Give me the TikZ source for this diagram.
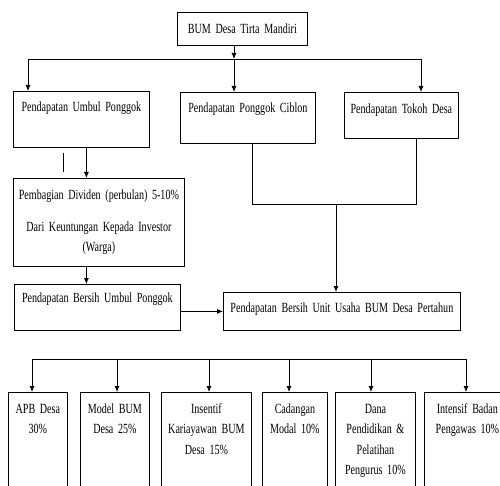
\documentclass[tikz,border=0pt]{standalone}
\usepackage{fontspec}
\setmainfont{Liberation Serif}[FakeStretch=0.72]
\usetikzlibrary{arrows.meta}
\newcommand{\boxfont}{\fontsize{14}{20.5}\selectfont\fontdimen2\font=2.6pt}
\tikzset{%
  block/.style={rectangle, draw, line width=0.8pt, anchor=north west, inner sep=0pt, align=center, text height=20pt, font=\boxfont},
  shareblock/.style={block, text height=21pt, text depth=110pt},
  line/.style={draw, line width=0.8pt},
  arrow/.style={draw, line width=0.8pt, -{Latex[length=6pt, width=5pt]}}}

\begin{document}
\begin{tikzpicture}[x=1pt, y=-1pt]
    \useasboundingbox (0,0) rectangle (500,486);
    \clip (0,0) rectangle (500,486);
    % Top: the village enterprise
    \node (bum) [block, text width=130pt, text height=21pt, text depth=12pt] at (177,12) {BUM Desa Tirta Mandiri};
    % Income of the units
    \node (umbul) [block, text width=136pt, text depth=36pt] at (13,91) {Pendapatan Umbul Ponggok};
    \node (ciblon) [block, text width=135pt, text depth=31pt] at (180,92) {Pendapatan Ponggok Ciblon};
    \node (tokoh) [block, text width=114pt, text height=21pt, text depth=25pt] at (344,92) {Pendapatan Tokoh Desa};
    \node (dividen) [block, text width=171pt, text height=21pt, text depth=67pt] at (13,178) {Pembagian Dividen (perbulan) 5-10\%\\[11.5pt]Dari Keuntungan Kepada Investor\\(Warga)};
    \node (bersih) [block, text width=166pt, text height=18pt, text depth=28pt] at (14,284) {Pendapatan Bersih Umbul Ponggok};
    \node (total) [block, text width=237pt, text depth=18pt] at (223,292) {Pendapatan Bersih Unit Usaha BUM Desa Pertahun};
    % Shares of the yearly income
    \node (apb) [shareblock, text width=59pt] at (8,392) {APB Desa\\30\%};
    \node (modal) [shareblock, text width=69pt] at (80,392) {Model BUM\\Desa 25\%};
    \node (insentif) [shareblock, text width=90pt] at (161,392) {Insentif\\Kariayawan BUM\\Desa 15\%};
    \node (cadangan) [shareblock, text width=65pt] at (262,392) {Cadangan\\Modal 10\%};
    \node (dana) [shareblock, text width=80pt] at (335,392) {Dana\\Pendidikan \&\\Pelatihan\\Pengurus 10\%};
    \node (pengawas) [shareblock, text width=86pt] at (424,392) {Intensif Badan\\Pengawas 10\%};
    % Arrows from the top
    \coordinate (hub) at (234,59);
    \coordinate (t1) at (28,59);
    \coordinate (t3) at (421,59);
    \draw[arrow] (hub |- bum.south) -- (hub);
    \draw[line] (t1) -- (t3);
    \draw[arrow] (t1) -- (t1 |- umbul.north);
    \draw[arrow] (hub) -- (hub |- ciblon.north);
    \draw[arrow] (t3) -- (t3 |- tokoh.north);
    % Umbul Ponggok branch
    \draw[line] (63,153) -- (63,172);
    \draw[arrow] ([xshift=5pt]umbul.south) -- ([xshift=5pt]umbul.south |- dividen.north);
    \draw[arrow] ([xshift=5pt]umbul.south |- dividen.south) -- ([xshift=5pt]umbul.south |- bersih.north);
    \draw[arrow] (bersih.east |- total.west) -- (total.west);
    % Ciblon and Tokoh joined
    \coordinate (m1) at (252,204);
    \coordinate (m2) at (416,204);
    \coordinate (m) at (336,204);
    \draw[line] (m1 |- ciblon.south) -- (m1) -- (m2) -- (m2 |- tokoh.south);
    \draw[arrow] (m) -- (m |- total.north);
    % Distribution
    \coordinate (dl) at (32,359);
    \coordinate (dr) at (466,359);
    \draw[line] (dl) -- (dr);
    \foreach \x/\b in {32/apb, 117/modal, 209/insentif, 289/cadangan, 371/dana, 466/pengawas} {
      \coordinate (d) at (\x,359);
      \draw[arrow] (d) -- (d |- \b.north);
    }
\end{tikzpicture}
\end{document}
